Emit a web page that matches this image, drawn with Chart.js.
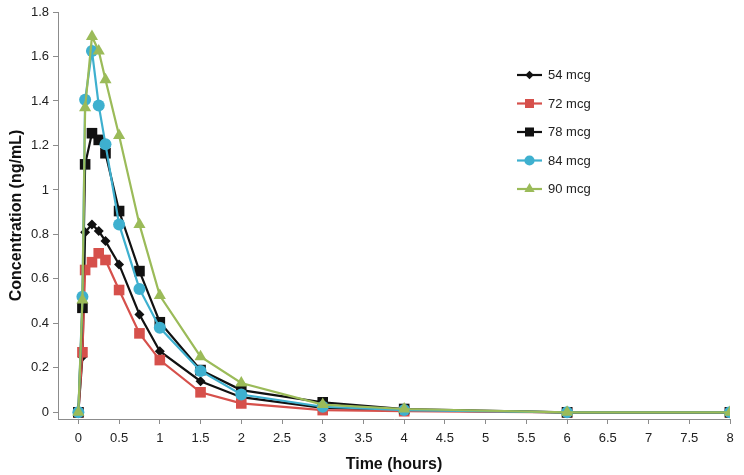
<!DOCTYPE html>
<html><head><meta charset="utf-8">
<script src="https://cdn.jsdelivr.net/npm/chart.js@4/dist/chart.umd.min.js"></script>
<style>html,body{margin:0;padding:0;background:#fff;}#wrap{width:744px;height:475px;}</style>
</head><body><div id="wrap"><canvas id="c"></canvas></div>
<script>
const times = [0, 0.05, 0.083, 0.167, 0.25, 0.333, 0.5, 0.75, 1, 1.5, 2, 3, 4, 6, 8];
const labels = ["54 mcg", "72 mcg", "78 mcg", "84 mcg", "90 mcg"];
const s54 = [0, 0.25, 0.81, 0.845, 0.815, 0.77, 0.665, 0.44, 0.275, 0.14, 0.068, 0.02, 0.01, 0, 0];
const s72 = [0, 0.27, 0.64, 0.675, 0.715, 0.685, 0.55, 0.355, 0.235, 0.09, 0.04, 0.01, 0.005, 0, 0];
const s78 = [0, 0.47, 1.115, 1.255, 1.225, 1.165, 0.905, 0.635, 0.405, 0.19, 0.1, 0.045, 0.015, 0, 0];
const s84 = [0, 0.52, 1.405, 1.625, 1.38, 1.205, 0.845, 0.555, 0.38, 0.186, 0.08, 0.025, 0.01, 0, 0];
const s90 = [0, 0.505, 1.37, 1.69, 1.625, 1.495, 1.245, 0.845, 0.525, 0.25, 0.132, 0.035, 0.015, 0, 0];
const yTicks = [0, 0.2, 0.4, 0.6, 0.8, 1, 1.2, 1.4, 1.6, 1.8];
const yTickLabels = ["0", "0.2", "0.4", "0.6", "0.8", "1", "1.2", "1.4", "1.6", "1.8"];
const xTicks = [0, 0.5, 1, 1.5, 2, 2.5, 3, 3.5, 4, 4.5, 5, 5.5, 6, 6.5, 7, 7.5, 8];
const xTickLabels = ["0", "0.5", "1", "1.5", "2", "2.5", "3", "3.5", "4", "4.5", "5", "5.5", "6", "6.5", "7", "7.5", "8"];

const FONT = "'Liberation Sans', Arial, sans-serif";
const series = [s54, s72, s78, s84, s90];
const colors = ["#111111", "#d6504b", "#111111", "#3eb0cf", "#9bbb59"];
const styles = ["rectRot", "rect", "rect", "circle", "triangle"];
const radii = [5, 7.5, 7.5, 6, 7];

const datasets = series.map((s, i) => ({
  label: labels[i],
  data: times.map((t, j) => ({x: t, y: s[j]})),
  borderColor: colors[i],
  backgroundColor: colors[i],
  pointBackgroundColor: colors[i],
  pointBorderColor: colors[i],
  pointBorderWidth: 0,
  pointStyle: styles[i],
  pointRadius: radii[i],
  borderWidth: 2.2,
  tension: 0,
  order: 4 - i
}));

const legendPlugin = {
  id: 'customLegend',
  afterDraw(chart) {
    const ctx = chart.ctx;
    ctx.save();
    chart.data.datasets.forEach((ds, i) => {
      const y = 75 + i * 28.5;
      ctx.strokeStyle = ds.borderColor;
      ctx.lineWidth = 2.2;
      ctx.beginPath(); ctx.moveTo(517, y); ctx.lineTo(542, y); ctx.stroke();
      ctx.fillStyle = ds.pointBackgroundColor;
      Chart.helpers.drawPoint(ctx, {pointStyle: ds.pointStyle, radius: ds.pointRadius * 0.85, borderWidth: 0}, 529.5, y);
      ctx.fillStyle = '#222';
      ctx.font = "13px " + FONT;
      ctx.textBaseline = 'middle';
      ctx.textAlign = 'left';
      ctx.fillText(ds.label, 548, y + 0.5);
    });
    ctx.restore();
  }
};

new Chart(document.getElementById('c'), {
  type: 'line',
  data: { datasets },
  plugins: [legendPlugin],
  options: {
    responsive: true,
    maintainAspectRatio: false,
    animation: false,
    events: [],
    layout: { padding: { top: 12, right: 14, left: 0, bottom: 0 } },
    plugins: { legend: { display: false }, tooltip: { enabled: false } },
    scales: {
      x: {
        type: 'linear',
        min: -0.25, max: 8,
        afterFit(scale) { scale.height = 56; },
        afterBuildTicks(scale) { scale.ticks = xTicks.map(v => ({value: v})); },
        border: { color: '#8c8c8c', width: 1 },
        grid: { drawOnChartArea: false, drawTicks: true, tickLength: 5, color: '#8c8c8c' },
        ticks: { color: '#222', font: { family: FONT, size: 13 }, padding: 7, maxRotation: 0, autoSkip: false,
          callback: (v, idx) => xTickLabels[idx] },
        title: { display: true, text: 'Time (hours)', color: '#111', font: { family: FONT, size: 16, weight: 'bold' }, padding: { top: 4, bottom: 1 } }
      },
      y: {
        type: 'linear',
        min: -0.03, max: 1.8,
        afterFit(scale) { scale.width = 58; },
        afterBuildTicks(scale) { scale.ticks = yTicks.map(v => ({value: v})); },
        border: { color: '#8c8c8c', width: 1 },
        grid: { drawOnChartArea: false, drawTicks: true, tickLength: 5, color: '#8c8c8c' },
        ticks: { color: '#222', font: { family: FONT, size: 13 }, padding: 4, autoSkip: false,
          callback: (v, idx) => yTickLabels[idx] },
        title: { display: true, text: 'Concentration (ng/mL)', color: '#111', font: { family: FONT, size: 16, weight: 'bold' }, padding: { top: 7, bottom: 0 } }
      }
    }
  }
});
</script></body></html>
